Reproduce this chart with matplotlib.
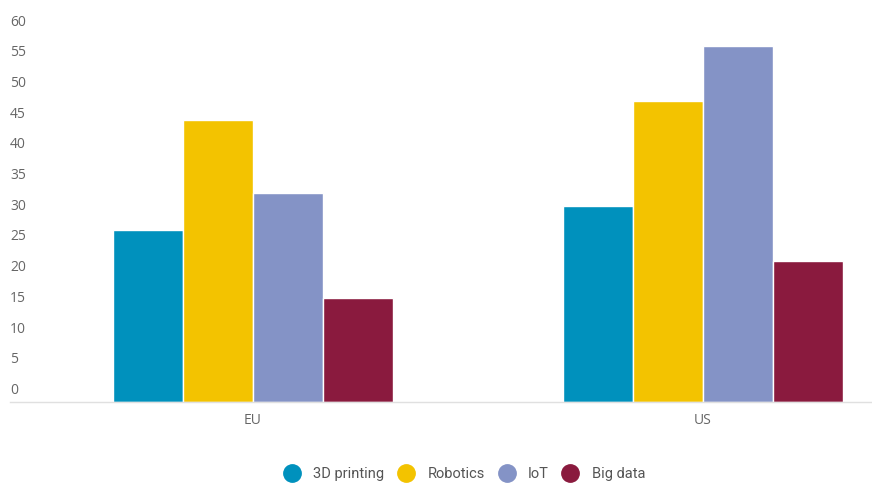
import matplotlib
matplotlib.use("Agg")
import matplotlib.pyplot as plt
from matplotlib.lines import Line2D
import numpy as np

# data
regions = ["EU", "US"]
series = ["3D printing", "Robotics", "IoT", "Big data"]
printing_3d = [28, 32]
robotics = [46, 49]
iot = [34, 58]
big_data = [17, 23]
yticks = list(range(0, 61, 5))

colors = ["#0091bd", "#f3c300", "#8493c6", "#8a1a3e"]
values = [printing_3d, robotics, iot, big_data]

fig = plt.figure(figsize=(8.72, 4.83), dpi=100)
ax = fig.add_axes([10 / 872, 81 / 483, 862 / 872, 368.4 / 483])

x = np.arange(len(regions))
w = 70 / 450
for i, (vals, c) in enumerate(zip(values, colors)):
    ax.bar(x + (i - 1.5) * w, vals, width=w, color=c, edgecolor="white",
           linewidth=1.0, label=series[i], zorder=2)

ax.set_xlim(-243 / 450, 1 + 169 / 450)
ax.set_ylim(0, 60)

for s in ["top", "right", "left"]:
    ax.spines[s].set_visible(False)
ax.spines["bottom"].set_color("#e0e0e0")
ax.spines["bottom"].set_linewidth(1.0)

ax.set_xticks(x)
ax.set_xticklabels(regions, fontsize=10, color="#666666", family="Open Sans")
ax.tick_params(axis="x", length=0, pad=8)
ax.set_yticks([])

# y labels sit just above their value, left aligned inside the plot
trans = matplotlib.transforms.blended_transform_factory(ax.transAxes, ax.transData)
off = matplotlib.transforms.ScaledTranslation(0, 4 / 100, fig.dpi_scale_trans)
for t in yticks:
    ax.text(0, t, str(t), transform=trans + off, ha="left", va="bottom",
            fontsize=10, color="#666666", family="Open Sans")

handles = [Line2D([], [], marker="o", linestyle="", markersize=12.5,
                  markerfacecolor=c, markeredgecolor=c) for c in colors]
fig.legend(handles, series, loc="center", bbox_to_anchor=(465 / 872, 1 - 474 / 483),
           ncol=4, frameon=False, handlelength=1.0, handletextpad=0.95,
           columnspacing=1.0, prop={"family": "Roboto", "size": 10.5},
           labelcolor="#555555")

fig.savefig("out.png", dpi=100)
